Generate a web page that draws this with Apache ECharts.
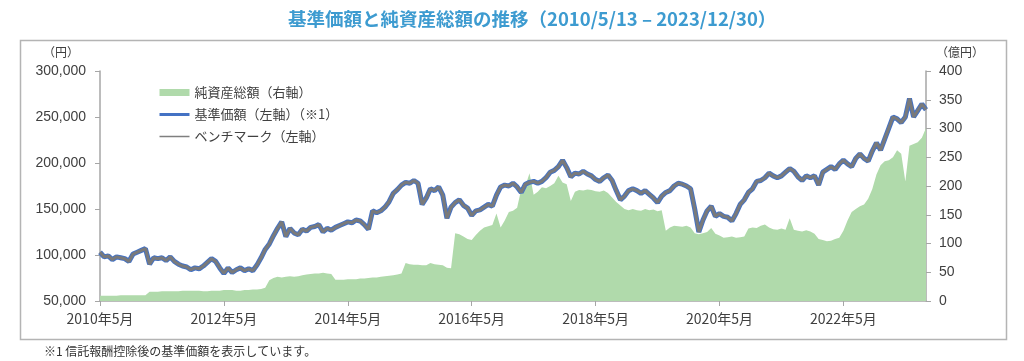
<!DOCTYPE html>
<html><head><meta charset="utf-8">
<script src="https://cdn.jsdelivr.net/npm/echarts@6/dist/echarts.min.js"></script>
<style>html,body{margin:0;padding:0;background:#fff}#c{width:1024px;height:361px}</style>
</head><body><div id="c"></div>
<script>
// x tick labels (every 30 points)
const tickLabels = ['2010年5月','2012年5月','2014年5月','2016年5月','2018年5月','2020年5月','2022年5月'];
// 基準価額 (千円)
const navK = [
103,98,99,95,98,97,96,93,101,103,105,107,90,97,96,97,94,98,93,90,
88,87,84,86,85,88,92,96,93,86,80,86,81,84,86,83,85,83,89,97,
106,112,121,129,136,120,129,124,122,128,126,130,131,133,125,129,127,130,132,134,
136,135,138,137,133,128,148,146,148,152,158,167,171,176,179,178,181,178,155,162,
172,170,174,165,140,152,157,160,154,151,143,148,149,152,155,153,165,174,176,175,
178,174,168,177,179,180,178,180,184,190,192,196,203,195,185,189,188,191,188,186,
182,180,184,187,181,170,160,164,170,172,170,167,170,166,162,157,164,168,170,175,
178,177,175,172,150,125,138,148,153,142,145,142,141,137,145,155,160,168,172,180,
181,184,189,186,184,186,190,194,191,185,181,186,184,186,176,190,193,196,193,199,
203,199,196,205,210,205,202,213,222,214,226,238,250,248,244,250,270,250,257,264,
258];
// ベンチマーク (千円)
const benchK = [
103,98,99,95,98,97,96,93,101,103,105,107,90,97,96,97,94,98,93,90,
88,87,84,86,85,88,92,96,93,86,80,86,81,84,86,83,85,83,89,97,
106,112,121,129,136,120,129,124,122,128,126,130,131,133,125,129,127,130,132,134,
136,135,138,137,133,128,148,146,148,152,158,167,171,176,179,178,181,178,155,162,
172,170,174,165,140,152,157,160,154,151,143,148,149,152,155,153,165,174,176,175,
178,174,168,177,179,180,178,180,184,190,192,196,203,195,185,189,188,191,188,186,
182,180,184,187,181,170,160,164,170,172,170,167,170,166,162,157,164,168,170,175,
178,177,175,172,150,125,138,148,153,142,145,142,141,137,145,155,160,168,172,180,
181,184,189,186,184,186,190,194,191,185,181,186,184,186,176,190,193,196,193,199,
203,199,196,205,210,205,202,213,222,214,226,238,250,248,244,250,270,250,257,264,
258];
// 純資産総額 (億円)
const netAssets = [
9,9,9,9,9,10,10,10,10,10,10,10,16,16,16,17,17,17,17,17,
18,18,18,18,18,17,17,18,18,18,19,19,19,18,18,19,19,20,20,21,
23,36,40,42,41,42,43,42,43,45,46,47,48,48,49,48,47,37,37,37,
38,38,38,39,39,40,41,41,42,43,44,45,46,48,66,64,63,63,62,62,
66,64,63,62,58,57,118,116,112,108,106,115,122,128,130,132,152,128,140,155,
157,162,195,200,222,185,190,198,196,200,205,218,206,203,174,190,193,192,194,193,
191,190,192,188,180,172,166,160,158,160,158,157,160,158,159,156,158,122,128,131,
130,129,131,128,118,116,118,120,127,117,114,110,111,112,110,111,112,126,128,127,
131,133,128,125,124,126,124,144,124,122,121,123,121,117,108,106,104,105,108,110,
122,140,155,160,165,168,178,195,220,236,243,245,250,262,256,208,270,273,276,284,
301];

const N = navK.length;
const categories = [];
for (let i = 0; i < N; i++) categories.push(i % 30 === 0 ? tickLabels[i / 30] : String(i));
const nav = navK.map(v => v * 1000);
const bench = benchK.map(v => v * 1000);

const chart = echarts.init(document.getElementById('c'));
const ff = '"Liberation Sans","Noto Sans CJK JP",sans-serif';
const jf = '"Noto Sans CJK JP",sans-serif';
chart.setOption({
  animation: false,
  title: {
    text: '基準価額と純資産総額の推移（2010/5/13 – 2023/12/30）',
    left: 283, top: 5,
    textStyle: { color: '#3d9bd0', fontSize: 18.5, fontWeight: 'bold', fontFamily: jf }
  },
  grid: { left: 100, right: 98, top: 71, bottom: 60, outerBoundsMode: 'none' },
  legend: {
    orient: 'vertical', left: 153, top: 81,
    itemWidth: 30, itemHeight: 7, itemGap: 9,
    textStyle: { color: '#404040', fontSize: 13, fontFamily: jf },
    data: [
      { name: '純資産総額（右軸）', icon: 'rect', itemStyle: { color: '#b0daab' } },
      { name: '基準価額（左軸）（※1）', itemStyle: { opacity: 0 }, lineStyle: { width: 3, color: '#4472c4' } },
      { name: 'ベンチマーク（左軸）', itemStyle: { opacity: 0 }, lineStyle: { width: 1.5, color: '#7f7f7f' } }
    ]
  },
  xAxis: {
    type: 'category', data: categories, boundaryGap: false,
    axisLine: { lineStyle: { color: '#a6a6a6', width: 1.5 } },
    axisTick: { interval: 29, length: 5, lineStyle: { color: '#a6a6a6' } },
    axisLabel: { interval: 29, color: '#404040', fontSize: 14, fontFamily: jf, margin: 11 }
  },
  yAxis: [
    {
      type: 'value', min: 50000, max: 300000, interval: 50000, position: 'left',
      splitLine: { show: false },
      axisLine: { show: true, lineStyle: { color: '#a6a6a6', width: 1.5 } },
      axisTick: { show: true, length: 5, lineStyle: { color: '#a6a6a6' } },
      axisLabel: { color: '#404040', fontSize: 14, fontFamily: ff, margin: 14,
        formatter: v => v.toLocaleString('en-US') }
    },
    {
      type: 'value', min: 0, max: 400, interval: 50, position: 'right',
      splitLine: { show: false },
      axisLine: { show: true, lineStyle: { color: '#a6a6a6', width: 1.5 } },
      axisTick: { show: true, length: 5, lineStyle: { color: '#a6a6a6' } },
      axisLabel: { color: '#404040', fontSize: 14, fontFamily: ff, margin: 13 }
    }
  ],
  series: [
    {
      name: '純資産総額（右軸）', type: 'line', yAxisIndex: 1, data: netAssets,
      symbol: 'none', lineStyle: { width: 0 }, itemStyle: { color: '#b0daab' },
      areaStyle: { color: '#b0daab', opacity: 1 }, z: 1
    },
    {
      name: '基準価額（左軸）（※1）', type: 'line', yAxisIndex: 0, data: nav,
      symbol: 'none', lineStyle: { width: 5, color: '#4472c4' }, itemStyle: { color: '#4472c4' }, z: 2
    },
    {
      name: 'ベンチマーク（左軸）', type: 'line', yAxisIndex: 0, data: bench,
      symbol: 'none', lineStyle: { width: 3, color: '#7a7a7a' }, itemStyle: { color: '#7a7a7a' }, z: 3
    }
  ],
  graphic: [
    { type: 'rect', left: 18, top: 38, shape: { width: 986, height: 299 },
      style: { fill: 'none', stroke: '#b4b4b4', lineWidth: 1.5 }, silent: true, z: -1 },
    { type: 'text', left: 43, top: 46, style: { text: '（円）', fill: '#404040', font: '12px "Noto Sans CJK JP"' } },
    { type: 'text', left: 936, top: 46, style: { text: '（億円）', fill: '#404040', font: '12px "Noto Sans CJK JP"' } },
    { type: 'text', left: 44, top: 345, style: { text: '※1 信託報酬控除後の基準価額を表示しています。', fill: '#333333', font: '12px "Noto Sans CJK JP"' } }
  ]
});
</script></body></html>
